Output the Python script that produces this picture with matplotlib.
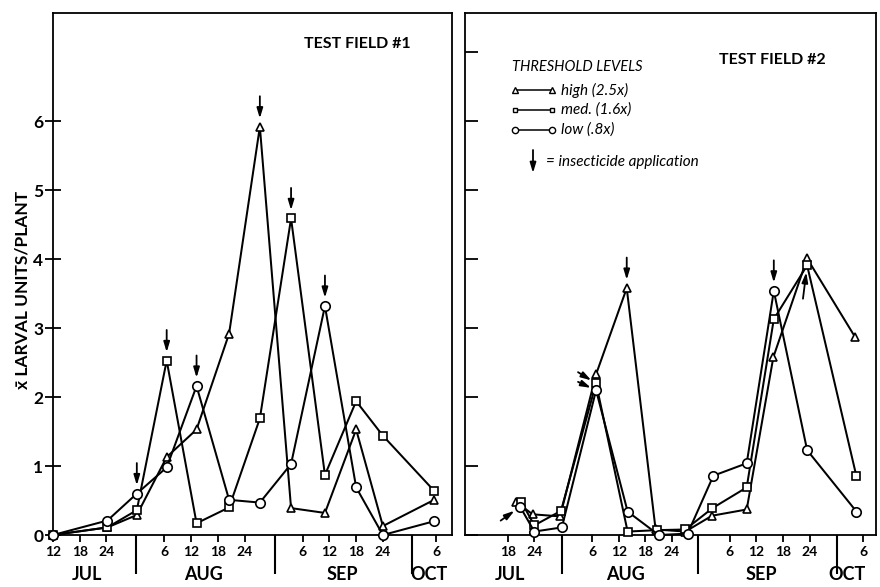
import matplotlib
matplotlib.use("Agg")
import matplotlib.pyplot as plt
from matplotlib.transforms import blended_transform_factory

plt.rcParams['font.family'] = ['Lato', 'DejaVu Sans']

# ---- data (x = days after 30 June: Jul 12 = 12 ... ) ----
# Test field 1
f1_dates = [11, 23.2, 29.8, 36.5, 43.2, 50.5, 57.4, 64.4, 72.0, 79.0, 85.0, 96.5]
f1_high = [0, 0.11, 0.29, 1.13, 1.53, 2.92, 5.92, 0.39, 0.32, 1.53, 0.13, 0.51]
f1_med = [0, 0.11, 0.36, 2.53, 0.17, 0.40, 1.69, 4.59, 0.87, 1.94, 1.44, 0.64]
f1_low = [0, 0.21, 0.60, 0.98, 2.16, 0.51, 0.47, 1.03, 3.32, 0.69, 0.0, 0.20]
# insecticide applications (series, index)
f1_arrows = [("low", 2), ("med", 3), ("low", 4), ("high", 6), ("med", 7), ("low", 8)]

# Test field 2
f2_dates_high = [18.9, 22.6, 28.8, 36.9, 43.8, 50.3, 57.0, 63.0, 70.8, 76.8, 84.4, 95.2]
f2_dates_med = [20.1, 23.0, 29.0, 36.9, 44.0, 50.5, 57.0, 63.1, 70.8, 76.9, 84.4, 95.5]
f2_dates_low = [19.8, 23.0, 29.2, 36.9, 44.0, 51.0, 57.5, 63.3, 70.8, 76.9, 84.4, 95.5]
f2_high = [0.48, 0.30, 0.27, 2.33, 3.58, 0.08, 0.05, 0.28, 0.37, 2.58, 4.01, 2.87]
f2_med = [0.48, 0.14, 0.35, 2.20, 0.05, 0.07, 0.08, 0.39, 0.69, 3.13, 3.91, 0.85]
f2_low = [0.41, 0.05, 0.11, 2.10, 0.34, 0.00, 0.02, 0.86, 1.04, 3.54, 1.23, 0.34]

# tick labels
f1_ticks = [11, 17, 23, 36, 42, 48, 54, 67, 73, 79, 85, 97]
f1_ticklabels = ["12", "18", "24", "6", "12", "18", "24", "6", "12", "18", "24", "6"]
f2_ticks = [17, 23, 36, 42, 48, 54, 67, 73, 79, 85, 97]
f2_ticklabels = ["18", "24", "6", "12", "18", "24", "6", "12", "18", "24", "6"]
f1_separators = [29.7, 60.9, 91.5]
f2_separators = [29.3, 59.9, 91.1]
months = ["JUL", "AUG", "SEP", "OCT"]
f1_month_pos = [18.6, 44.7, 76.0, 95.3]
f2_month_pos = [17.5, 43.5, 74.0, 93.3]

legend_labels = ["high (2.5x)", "med. (1.6x)", "low (.8x)"]

fig = plt.figure(figsize=(8.8, 5.87), dpi=100)
W, H = 880, 587
ax1 = fig.add_axes([53 / W, (H - 535) / H, 399 / W, 522 / H])
ax2 = fig.add_axes([465 / W, (H - 535) / H, 411 / W, 522 / H])

style = dict(color="black", lw=1.45, mfc="white", mec="black", mew=1.2, clip_on=False, zorder=3)
markers = {"high": ("^", 6.3), "med": ("s", 5.8), "low": ("o", 6.8)}


def draw(ax, series):
    for name, xs, ys in series:
        m, ms = markers[name]
        ax.plot(xs, ys, marker=m, ms=ms, **style)


def arrow(ax, x, y, dx=0, dy=24, shrink=6):
    ax.annotate("", xy=(x, y), xycoords="data", xytext=(dx, dy), textcoords="offset points",
                arrowprops=dict(arrowstyle="-|>,head_length=0.6,head_width=0.18", color="black",
                                lw=1.3, shrinkA=0, shrinkB=shrink), zorder=4)


draw(ax1, [("high", f1_dates, f1_high), ("med", f1_dates, f1_med), ("low", f1_dates, f1_low)])
draw(ax2, [("high", f2_dates_high, f2_high), ("med", f2_dates_med, f2_med), ("low", f2_dates_low, f2_low)])

lookup1 = {"high": f1_high, "med": f1_med, "low": f1_low}
for name, i in f1_arrows:
    arrow(ax1, f1_dates[i], lookup1[name][i], 0, 22)

# field 2 arrows
arrow(ax2, f2_dates_low[0], f2_low[0], -14, -10, 5)
arrow(ax2, f2_dates_med[3], f2_med[3], -13, 8, 4)
arrow(ax2, f2_dates_low[3], f2_low[3], -13, 6, 4)
arrow(ax2, f2_dates_high[4], f2_high[4], 0, 22)
arrow(ax2, f2_dates_low[9], f2_low[9], 0, 22)
arrow(ax2, f2_dates_med[10], f2_med[10], -3, -24, 5)

for ax, xl, ticks, labels, seps, mpos in [
        (ax1, (11, 100.5), f1_ticks, f1_ticklabels, f1_separators, f1_month_pos),
        (ax2, (7.4, 99.9), f2_ticks, f2_ticklabels, f2_separators, f2_month_pos)]:
    ax.set_xlim(*xl)
    ax.set_ylim(0, 7.57)
    ax.set_xticks(ticks)
    ax.set_xticklabels(labels, fontsize=10, fontweight="bold")
    ax.set_xticks(seps, minor=True)
    ax.tick_params(axis="x", which="major", direction="out", length=5, width=1.3, pad=3)
    ax.tick_params(axis="x", which="minor", direction="out", length=28, width=1.5)
    for s in ax.spines.values():
        s.set_linewidth(1.3)
    trans = blended_transform_factory(ax.transData, ax.transAxes)
    for mth, p in zip(months, mpos):
        ax.text(p, -0.076, mth, transform=trans, ha="center", va="center",
                fontsize=13, fontweight="bold")

ax1.set_yticks(range(0, 7))
ax1.set_yticklabels([str(i) for i in range(0, 7)], fontsize=12.5, fontweight="bold")
ax1.tick_params(axis="y", direction="inout", length=12, width=1.3, pad=1)
ax2.set_yticks(range(0, 8))
ax2.set_yticklabels([])
ax2.tick_params(axis="y", direction="in", length=9, width=1.3)

ax1.text((357 - 53) / 399, 1 - 31 / 522, "TEST FIELD #1", transform=ax1.transAxes, ha="center",
         va="center", fontsize=11.5, fontweight="bold")
ax2.text((772 - 465) / 411, 1 - 47 / 522, "TEST FIELD #2", transform=ax2.transAxes,
         ha="center", va="center", fontsize=11.5, fontweight="bold")

fig.text(22 / W, 1 - 290 / H, "x\u0304 LARVAL UNITS/PLANT", rotation=90, ha="center",
         va="center", fontsize=12.5, fontweight="bold")


# legend in field 2
def px(x, y):
    return ((x - 465) / 411, (535 - y) / 522)


lx0, lx1 = 515, 552
ax2.text(*px(512, 67), "THRESHOLD LEVELS", transform=ax2.transAxes, ha="left", va="center",
         fontsize=10.5, style="italic")
for (name, (m, ms)), lab, yy in zip(markers.items(), legend_labels, [90, 110, 130]):
    a, b = px(lx0, yy)
    c, _ = px(lx1, yy)
    ax2.plot([a, c], [b, b], transform=ax2.transAxes, color="black", lw=1.1,
             marker=m, ms=ms - 2.3, mfc="white", mec="black", mew=1.0, clip_on=False)
    ax2.text(*px(561, yy), lab, transform=ax2.transAxes, ha="left", va="center",
             fontsize=11, style="italic")
ax2.annotate("", xy=px(533, 173), xycoords="axes fraction", xytext=px(533, 150),
             textcoords="axes fraction",
             arrowprops=dict(arrowstyle="-|>,head_length=0.6,head_width=0.18", color="black",
                             lw=1.3, shrinkA=0, shrinkB=0))
ax2.text(*px(546, 162), "= insecticide application", transform=ax2.transAxes, ha="left",
         va="center", fontsize=11, style="italic")

fig.savefig("out.png", dpi=100)
